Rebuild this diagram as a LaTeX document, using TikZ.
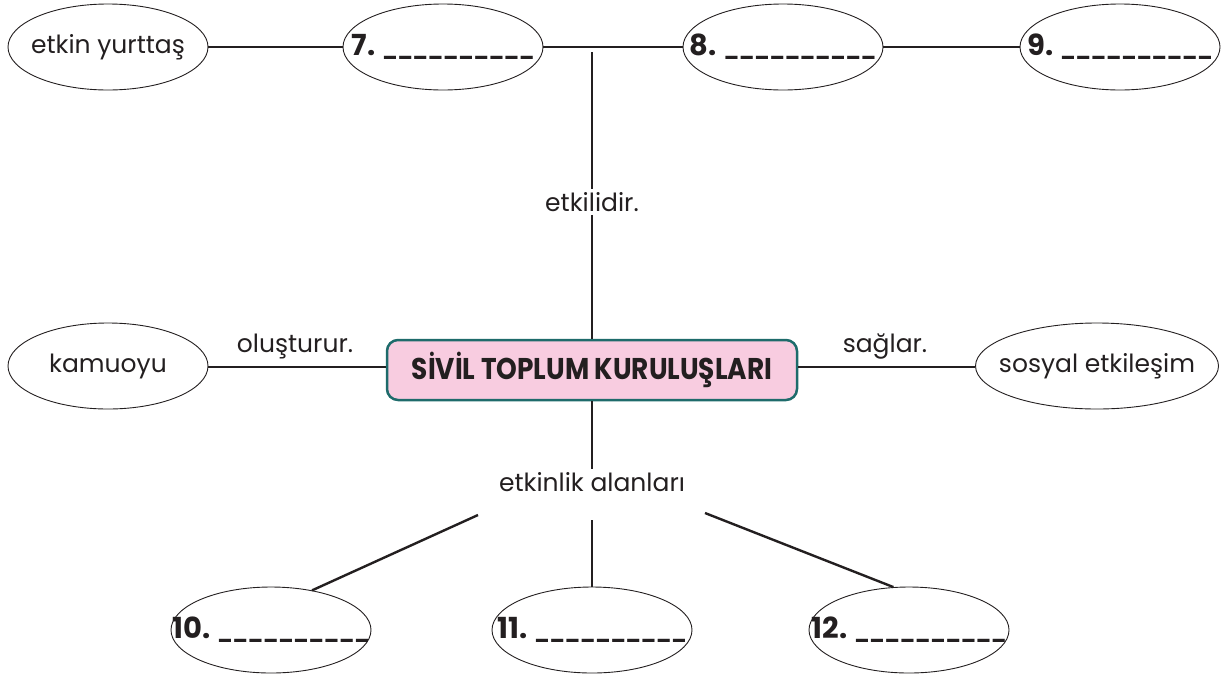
\documentclass[tikz,border=0pt]{standalone}
\usepackage{fontspec}
\setmainfont{Poppins}
\newfontfamily\titlefont{Poppins}[FakeStretch=0.88]
\usetikzlibrary{shapes.geometric}
\definecolor{inkc}{HTML}{231F20}
\definecolor{boxfill}{HTML}{F8CCE0}
\definecolor{boxline}{HTML}{1E6B6B}
\newcommand\zw[1]{\makebox[0pt]{#1}}
\newcommand\numblank[1]{\makebox[0pt]{{\bfseries\fontsize{29}{34}\selectfont #1}\hspace{7pt}{\bfseries\fontsize{19.5}{24}\selectfont\_\_\_\_\_\_\_\_\_\_}}}
\begin{document}
\begin{tikzpicture}[x=1pt,y=-1pt,
  oval/.style={draw=inkc, line width=0.9pt, ellipse, minimum width=200pt, minimum height=86pt, inner sep=0pt, text=inkc, font=\fontsize{25}{30}\selectfont},
  blank/.style={oval},
  conn/.style={line width=2.4pt, draw=inkc},
  lab/.style={inner sep=3pt, text=inkc, font=\fontsize{25}{30}\selectfont},
  titlebox/.style={draw=boxline, fill=boxfill, line width=2.5pt, rounded corners=11pt, minimum width=410pt, minimum height=60pt, inner sep=0pt, text=inkc, font=\titlefont\bfseries\fontsize{30}{34}\selectfont}]
\useasboundingbox (0,0) rectangle (1223,675);
% top row
\node[oval] (ey) at (108,47) {\zw{etkin yurttaş}};
\node[blank] (e7) at (443,47) {\numblank{7.}};
\node[blank] (e8) at (783,47) {\numblank{8.}};
\node[blank] (e9) at (1120,47) {\numblank{9.}};
% center
\node[titlebox] (stk) at (592,370) {\zw{SİVİL TOPLUM KURULUŞLARI}};
\node[oval] (kam) at (108,366) {\zw{kamuoyu}};
\node[oval, minimum width=243pt] (sos) at (1097,366) {\zw{sosyal etkileşim}};
% labels
\node[lab] (etk) at (592,202) {etkilidir.};
\node[lab] (olu) at (295,346) {oluşturur.};
\node[lab] (sag) at (885,346) {sağlar.};
\node[lab] (alan) at (592,482) {etkinlik alanları};
% bottom row
\node[blank] (e10) at (271,630) {\numblank{10.}};
\node[blank] (e11) at (592,630) {\numblank{11.}};
\node[blank] (e12) at (909,630) {\numblank{12.}};
% coordinates
\coordinate (topj) at (592,52);
\coordinate (a1) at (478,515);
\coordinate (a2) at (592,520);
\coordinate (a3) at (705,513);
% connectors
\draw[conn] (ey.east) -- (e7.west);
\draw[conn] (e7.east) -- (e8.west);
\draw[conn] (e8.east) -- (e9.west);
\draw[conn] (topj) -- (etk.north);
\draw[conn] (etk.south) -- (stk.north);
\draw[conn] (kam.east |- 0,367) -- (stk.west |- 0,367);
\draw[conn] (stk.east |- 0,367) -- (sos.west |- 0,367);
\draw[conn] (stk.south) -- (alan.north);
\draw[conn] (a1) -- (e10.44);
\draw[conn] (a2) -- (e11.north);
\draw[conn] (a3) -- (e12.110);
\end{tikzpicture}
\end{document}
